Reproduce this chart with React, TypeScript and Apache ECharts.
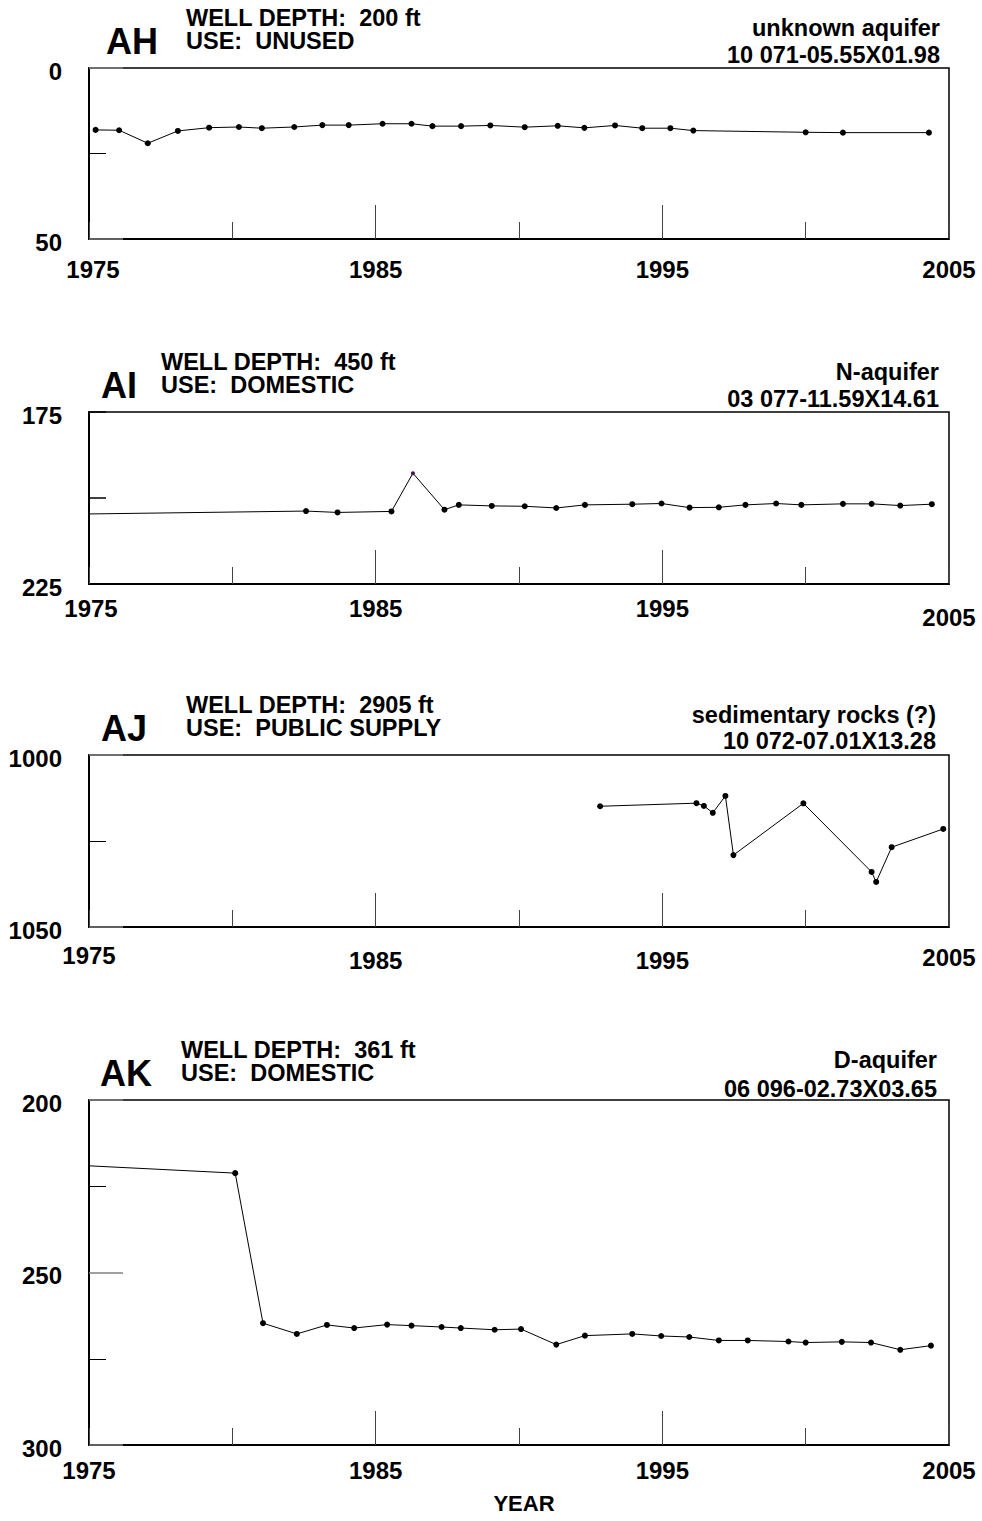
import React, { useEffect, useRef } from 'react';
import * as echarts from 'echarts';

// ---------- DATA ----------
const panelIds = ['AH', 'AI', 'AJ', 'AK'];
const wellDepths = ['200 ft', '450 ft', '2905 ft', '361 ft'];
const wellUses = ['UNUSED', 'DOMESTIC', 'PUBLIC SUPPLY', 'DOMESTIC'];
const aquifers = ['unknown aquifer', 'N-aquifer', 'sedimentary rocks (?)', 'D-aquifer'];
const siteIds = ['10 071-05.55X01.98', '03 077-11.59X14.61', '10 072-07.01X13.28', '06 096-02.73X03.65'];

const yMins = [0, 175, 1000, 200];
const yMaxs = [50, 225, 1050, 300];
const yIntervals = [50, 25, 50, 50];
const yLabelValues = [[0, 50], [175, 225], [1000, 1050], [200, 250, 300]];

const xMin = 1975;
const xMax = 2005;
const xTickLabels = [1975, 1985, 1995, 2005];
const xMajorTicks = [1985, 1995];

const yearsAH = [1975.23, 1976.05, 1977.05, 1978.1, 1979.19, 1980.23, 1981.03, 1982.16, 1983.14, 1984.06, 1985.24, 1986.25, 1986.98, 1987.98, 1989.0, 1990.2, 1991.35, 1992.28, 1993.35, 1994.3, 1995.28, 1996.08, 2000.0, 2001.3, 2004.3];
const levelsAH = [18.1, 18.2, 22.0, 18.4, 17.45, 17.25, 17.6, 17.25, 16.7, 16.7, 16.3, 16.3, 17.0, 17.0, 16.8, 17.3, 16.9, 17.5, 16.8, 17.6, 17.6, 18.3, 18.8, 18.9, 18.9];

const yearsAI = [1960.0, 1982.57, 1983.67, 1985.55, 1986.3, 1987.4, 1987.9, 1989.05, 1990.2, 1991.3, 1992.3, 1993.95, 1994.97, 1995.95, 1996.97, 1997.9, 1998.97, 1999.85, 2001.3, 2002.3, 2003.3, 2004.4];
const levelsAI = [206.3, 203.8, 204.2, 203.9, 192.8, 203.4, 202.0, 202.3, 202.4, 202.9, 202.0, 201.8, 201.6, 202.8, 202.7, 202.0, 201.6, 202.0, 201.7, 201.7, 202.2, 201.8];
const peakIndexAI = 4;

const yearsAJ = [1992.83, 1996.19, 1996.45, 1996.76, 1997.2, 1997.48, 1999.92, 2002.3, 2002.46, 2003.0, 2004.8];
const levelsAJ = [1014.9, 1014.0, 1014.8, 1016.8, 1011.9, 1029.1, 1014.05, 1034.0, 1036.9, 1026.8, 1021.5];

const yearsAK = [1970.0, 1980.1, 1981.07, 1982.25, 1983.3, 1984.25, 1985.4, 1986.25, 1987.3, 1987.97, 1989.15, 1990.07, 1991.3, 1992.3, 1993.95, 1994.96, 1995.94, 1996.97, 1997.98, 1999.4, 2000.0, 2001.26, 2002.28, 2003.3, 2004.37];
const levelsAK = [217.0, 221.2, 264.7, 267.8, 265.2, 266.1, 265.1, 265.4, 265.8, 266.1, 266.6, 266.4, 270.9, 268.3, 267.8, 268.4, 268.7, 269.7, 269.7, 270.0, 270.3, 270.1, 270.3, 272.4, 271.2];

const allYears = [yearsAH, yearsAI, yearsAJ, yearsAK];
const allLevels = [levelsAH, levelsAI, levelsAJ, levelsAK];

// ---------- LAYOUT ----------
const gridLeft = 89;
const gridWidth = 860;
const gridTops = [68, 412, 755, 1100];
const gridHeights = [171, 172, 172, 345];
const titleX = [106, 101, 101, 100];
const infoX = [186, 161, 186, 181];
const rightX = [940, 939, 936, 937];
const right2Dy = [-13.5, -13.5, -14, -11];
const xLabelMargins = [18, 12, 16, 13];
const xLabelExtraTop: Record<number, number>[] = [{}, { 2005: 9 }, { 1985: 5, 1995: 5, 2005: 2 }, {}];
const xLabelExtraLeft: Record<number, number>[] = [{ 1975: 8 }, { 1975: 4 }, {}, {}];

const FONT = '"Liberation Sans", Arial, Helvetica, sans-serif';
const HEAD = 23.5;

export default function App() {
  const ref = useRef<HTMLDivElement>(null);

  useEffect(() => {
    const chart = echarts.init(ref.current as HTMLDivElement, null, { renderer: 'svg' });

    const grids: any[] = [];
    const xAxes: any[] = [];
    const yAxes: any[] = [];
    const series: any[] = [];
    const graphics: any[] = [];

    const labelStyle = { fontFamily: FONT, fontWeight: 'bold', fontSize: 24, color: '#000' };

    for (let i = 0; i < 4; i++) {
      grids.push({
        left: gridLeft,
        width: gridWidth,
        top: gridTops[i],
        height: gridHeights[i],
        show: true,
        borderColor: '#000',
        borderWidth: 1.5,
        backgroundColor: 'transparent',
        containLabel: false,
        outerBoundsMode: 'none',
      });

      const et = xLabelExtraTop[i];
      const el = xLabelExtraLeft[i];
      const rich: any = {};
      xTickLabels.forEach((v) => {
        rich['t' + v] = { ...labelStyle, padding: [et[v] || 0, 0, 0, el[v] || 0] };
      });

      xAxes.push({
        type: 'value',
        gridIndex: i,
        min: xMin,
        max: xMax,
        interval: 5,
        position: 'bottom',
        axisLine: { show: true, onZero: false, lineStyle: { color: '#000', width: 2 } },
        axisTick: { show: true, inside: true, length: 17, lineStyle: { color: '#444', width: 1 } },
        splitLine: { show: false },
        axisLabel: {
          show: true,
          margin: xLabelMargins[i],
          ...labelStyle,
          showMinLabel: true,
          showMaxLabel: true,
          formatter: (v: number) => (xTickLabels.includes(v) ? `{t${v}|${v}}` : ''),
          rich,
        },
      });
      xAxes.push({
        type: 'value',
        gridIndex: i,
        min: xMin,
        max: xMax,
        position: 'bottom',
        axisLine: { show: false, onZero: false },
        axisTick: { show: true, inside: true, length: 34, customValues: xMajorTicks, lineStyle: { color: '#444', width: 1 } },
        axisLabel: { show: false },
        splitLine: { show: false },
      });

      const yLabs = yLabelValues[i];
      yAxes.push({
        type: 'value',
        gridIndex: i,
        inverse: true,
        min: yMins[i],
        max: yMaxs[i],
        interval: yIntervals[i],
        axisLine: { show: true, onZero: false, lineStyle: { color: '#000', width: 2 } },
        axisTick: {
          show: true,
          inside: true,
          length: i === 1 ? 17 : 34,
          lineStyle: { color: i === 1 ? '#000' : '#808080', width: 1.5 },
        },
        minorTick: { show: i !== 1, splitNumber: 2, length: 17, lineStyle: { color: '#000', width: 1 } },
        splitLine: { show: false },
        minorSplitLine: { show: false },
        axisLabel: {
          show: true,
          margin: 27,
          ...labelStyle,
          showMinLabel: true,
          showMaxLabel: true,
          formatter: (v: number) => (yLabs.includes(v) ? `{y|${v}}` : ''),
          rich: { y: { ...labelStyle, padding: [6, 0, 0, 0] } },
        },
      });

      const data = allYears[i].map((yr, k) => {
        if (i === 1 && k === peakIndexAI) {
          return { value: [yr, allLevels[i][k]], symbolSize: 4, itemStyle: { color: '#4a1050' } };
        }
        return [yr, allLevels[i][k]];
      });

      series.push({
        type: 'line',
        xAxisIndex: 2 * i,
        yAxisIndex: i,
        data,
        symbol: 'circle',
        symbolSize: 6,
        showSymbol: true,
        clip: true,
        itemStyle: { color: '#000' },
        lineStyle: { color: '#000', width: 1 },
        z: 5,
      });

      const top = gridTops[i];
      graphics.push(
        {
          type: 'text',
          style: { text: panelIds[i], x: titleX[i], y: top - 27, fill: '#000', font: `bold 36px ${FONT}`, textAlign: 'left', textVerticalAlign: 'middle', verticalAlign: 'middle' },
        },
        {
          type: 'text',
          style: { text: `WELL DEPTH:  ${wellDepths[i]}`, x: infoX[i], y: top - 50.5, fill: '#000', font: `bold ${HEAD}px ${FONT}`, textAlign: 'left', textVerticalAlign: 'middle', verticalAlign: 'middle' },
        },
        {
          type: 'text',
          style: { text: `USE:  ${wellUses[i]}`, x: infoX[i], y: top - 27.5, fill: '#000', font: `bold ${HEAD}px ${FONT}`, textAlign: 'left', textVerticalAlign: 'middle', verticalAlign: 'middle' },
        },
        {
          type: 'text',
          style: { text: aquifers[i], x: rightX[i], y: top - 40.5, fill: '#000', font: `bold ${HEAD}px ${FONT}`, textAlign: 'right', textVerticalAlign: 'middle', verticalAlign: 'middle' },
        },
        {
          type: 'text',
          style: { text: siteIds[i], x: rightX[i], y: top + right2Dy[i], fill: '#000', font: `bold ${HEAD}px ${FONT}`, textAlign: 'right', textVerticalAlign: 'middle', verticalAlign: 'middle' },
        }
      );
    }

    graphics.push({
      type: 'text',
      style: { text: 'YEAR', x: 524, y: 1503, fill: '#000', font: `bold 22px ${FONT}`, textAlign: 'center', textVerticalAlign: 'middle', verticalAlign: 'middle' },
    });

    chart.setOption({
      animation: false,
      backgroundColor: '#fff',
      grid: grids,
      xAxis: xAxes,
      yAxis: yAxes,
      series,
      graphic: graphics,
    });

    return () => chart.dispose();
  }, []);

  return (
    <div
      ref={ref}
      style={{ position: 'absolute', left: 0, top: 0, width: 982, height: 1521, background: '#fff' }}
    />
  );
}
